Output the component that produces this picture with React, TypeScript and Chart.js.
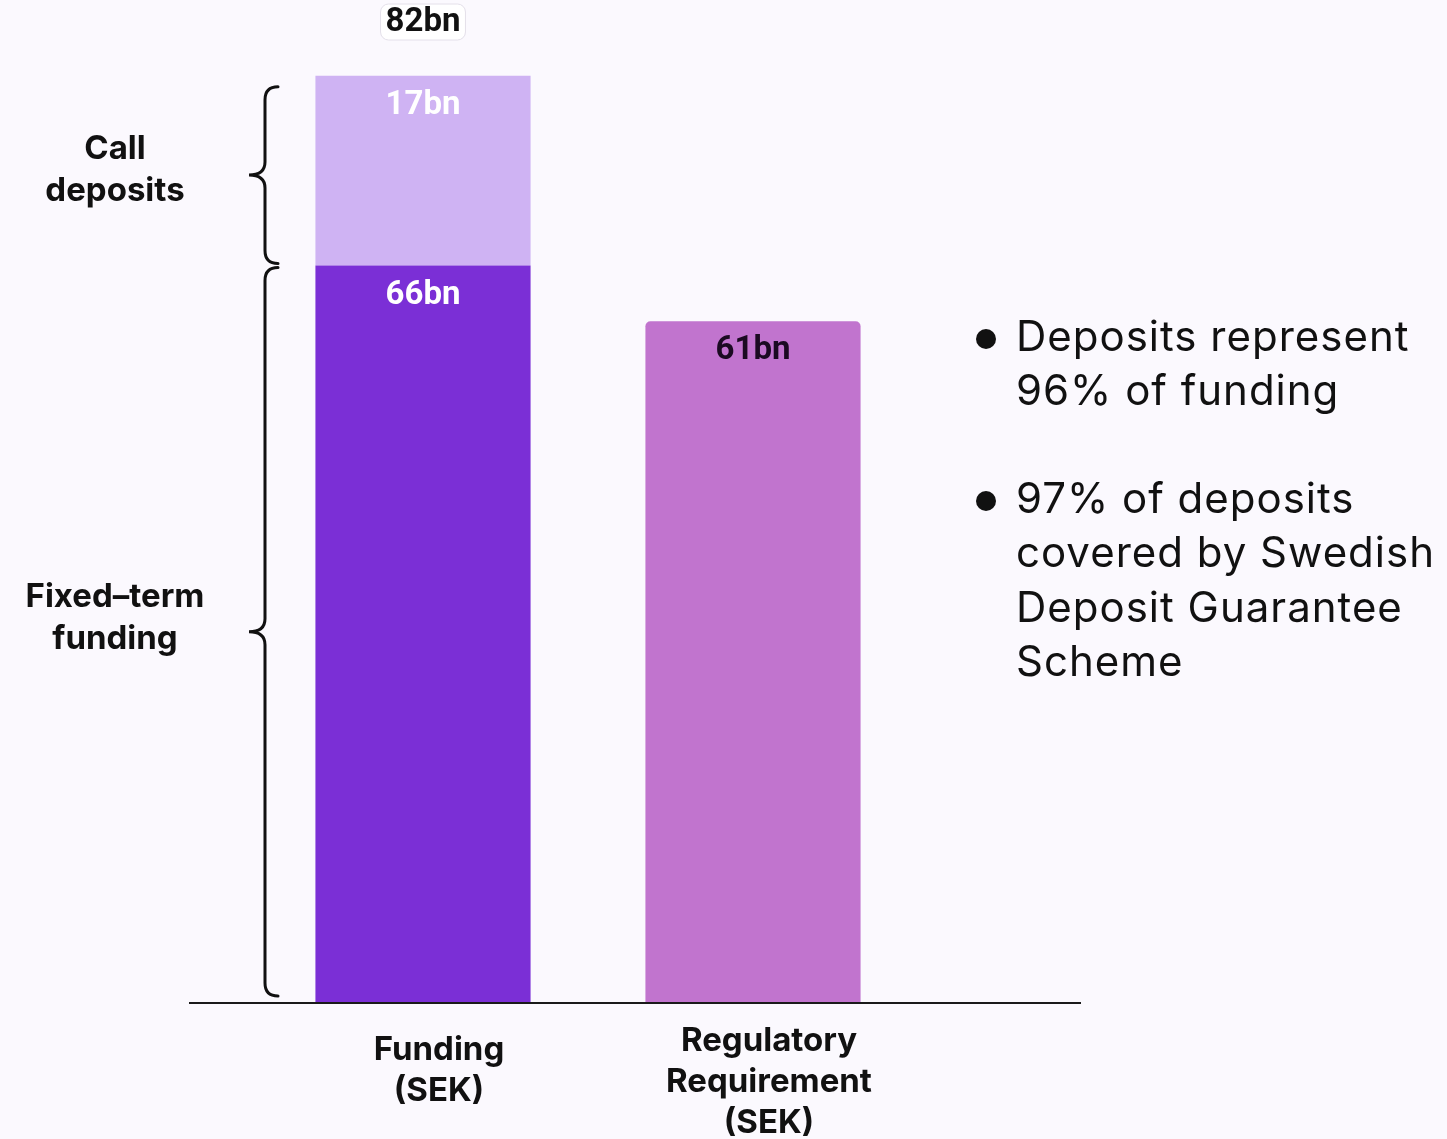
import React, { useEffect, useRef } from "react";
import { Chart, registerables } from "chart.js";

Chart.register(...registerables);

const categories: string[][] = [["Funding", "(SEK)"], ["Regulatory", "Requirement", "(SEK)"]];
const fixedTermFunding: (number | null)[] = [66, null];
const callDeposits: (number | null)[] = [17, null];
const regulatoryRequirement: (number | null)[] = [null, 61];
const totalLabels: (string | null)[] = ["82bn", null];
const braceLabels: string[][] = [["Call", "deposits"], ["Fixed–term", "funding"]];
const bulletPoints: string[][] = [
  ["Deposits represent", "96% of funding"],
  ["97% of deposits", "covered by Swedish", "Deposit Guarantee", "Scheme"],
];

const BG = "#fbf9fe";
const DARK = "#7b2fd6";
const LIGHT = "#cfb3f3";
const PINK = "#c174ce";

function drawBrace(ctx: CanvasRenderingContext2D, sx: number, y1: number, y2: number) {
  const ym = (y1 + y2) / 2;
  const r = 13;
  ctx.beginPath();
  ctx.moveTo(sx + r, y1);
  ctx.quadraticCurveTo(sx, y1, sx, y1 + r);
  ctx.lineTo(sx, ym - r);
  ctx.quadraticCurveTo(sx, ym, sx - 16, ym);
  ctx.quadraticCurveTo(sx, ym, sx, ym + r);
  ctx.lineTo(sx, y2 - r);
  ctx.quadraticCurveTo(sx, y2, sx + r, y2);
  ctx.stroke();
}

const overlayPlugin = {
  id: "overlay",
  beforeDraw(chart: any) {
    const ctx = chart.ctx;
    ctx.save();
    ctx.fillStyle = BG;
    ctx.fillRect(0, 0, chart.width, chart.height);
    ctx.restore();
  },
  afterDatasetsDraw(chart: any) {
    const ctx: CanvasRenderingContext2D = chart.ctx;
    const x = chart.scales.x;
    const y = chart.scales.y;
    const axisY = y.getPixelForValue(0);
    ctx.save();

    // baseline
    ctx.strokeStyle = "#1a1a1a";
    ctx.lineWidth = 2;
    ctx.beginPath();
    ctx.moveTo(chart.chartArea.left - 69, axisY + 1);
    ctx.lineTo(chart.chartArea.right + 163, axisY + 1);
    ctx.stroke();

    // bar value labels
    ctx.font = "bold 33px Roboto";
    ctx.textAlign = "center";
    ctx.textBaseline = "middle";
    const sets = [
      { data: fixedTermFunding, color: "#ffffff", base: (i: number) => 0 },
      { data: callDeposits, color: "#ffffff", base: (i: number) => fixedTermFunding[i] || 0 },
      { data: regulatoryRequirement, color: "#1b0a22", base: (i: number) => 0 },
    ];
    sets.forEach((s) => {
      s.data.forEach((v, i) => {
        if (v == null) return;
        const top = y.getPixelForValue(s.base(i) + v);
        const cx = x.getPixelForValue(i);
        ctx.fillStyle = s.color;
        ctx.fillText(`${v}bn`, cx, top + 30);
      });
    });

    // total labels
    totalLabels.forEach((t, i) => {
      if (!t) return;
      const cx = x.getPixelForValue(i);
      ctx.font = "bold 33px Roboto";
      const w = ctx.measureText(t).width + 10;
      const h = 36;
      const by = 22;
      ctx.fillStyle = "#ffffff";
      ctx.strokeStyle = "#e4e0ea";
      ctx.lineWidth = 1;
      ctx.beginPath();
      (ctx as any).roundRect(cx - w / 2, by - h / 2, w, h, 8);
      ctx.fill();
      ctx.stroke();
      ctx.fillStyle = "#111111";
      ctx.fillText(t, cx, by + 1);
    });

    // braces
    const sx = chart.chartArea.left + 7;
    ctx.strokeStyle = "#111111";
    ctx.lineWidth = 3;
    ctx.lineCap = "round";
    const callTop = y.getPixelForValue((fixedTermFunding[0] || 0) + (callDeposits[0] || 0)) + 11;
    const split = y.getPixelForValue(fixedTermFunding[0] || 0);
    const bottom = axisY - 6;
    drawBrace(ctx, sx, callTop, split - 2);
    drawBrace(ctx, sx, split + 2, bottom);

    // brace labels
    ctx.fillStyle = "#111111";
    ctx.font = "bold 33px Inter";
    const mids = [(callTop + split) / 2 - 6, (split + bottom) / 2 - 13];
    braceLabels.forEach((lines, k) => {
      const lh = 42;
      const start = mids[k] - ((lines.length - 1) * lh) / 2;
      lines.forEach((ln, j) => ctx.fillText(ln, 115, start + j * lh));
    });

    // category labels
    ctx.font = "bold 33px Inter";
    categories.forEach((lines, i) => {
      const cx = x.getPixelForValue(i) + 16;
      const start = axisY + 66 - 9 * lines.length;
      lines.forEach((ln, j) => ctx.fillText(ln, cx, start + j * 41));
    });

    // bullet text
    ctx.textAlign = "left";
    ctx.font = "42px Inter";
    (ctx as any).letterSpacing = "1px";
    let ly = 338;
    bulletPoints.forEach((lines) => {
      ctx.beginPath();
      ctx.arc(986, ly + 1, 10, 0, Math.PI * 2);
      ctx.fill();
      lines.forEach((ln) => {
        ctx.fillText(ln, 1016, ly);
        ly += 54.5;
      });
      ly += 53;
    });
    (ctx as any).letterSpacing = "0px";

    ctx.restore();
  },
};

export default function App() {
  const ref = useRef<HTMLCanvasElement | null>(null);
  useEffect(() => {
    document.body.style.margin = "0";
    document.body.style.background = BG;
    const chart = new Chart(ref.current as HTMLCanvasElement, {
      type: "bar",
      data: {
        labels: categories.map((c) => c.join(" ")),
        datasets: [
          { label: "Fixed-term funding", data: fixedTermFunding as any, backgroundColor: DARK, borderWidth: 0 },
          { label: "Call deposits", data: callDeposits as any, backgroundColor: LIGHT, borderWidth: 0 },
          {
            label: "Regulatory requirement",
            data: regulatoryRequirement as any,
            backgroundColor: PINK,
            borderWidth: 0,
            borderRadius: { topLeft: 5, topRight: 5, bottomLeft: 0, bottomRight: 0 },
            borderSkipped: false,
          },
        ],
      },
      options: {
        responsive: true,
        maintainAspectRatio: false,
        animation: false,
        layout: { padding: { left: 258, right: 529, top: 40, bottom: 137 } },
        plugins: { legend: { display: false }, tooltip: { enabled: false } },
        datasets: { bar: { categoryPercentage: 1, barPercentage: 0.652 } },
        scales: {
          x: { stacked: true, display: false },
          y: { stacked: true, display: false, min: 0, max: 86.2 },
        },
      },
      plugins: [overlayPlugin],
    });
    return () => chart.destroy();
  }, []);
  return (
    <div style={{ position: "fixed", left: 0, top: 0, width: 1447, height: 1139, background: BG }}>
      <canvas ref={ref} />
    </div>
  );
}
